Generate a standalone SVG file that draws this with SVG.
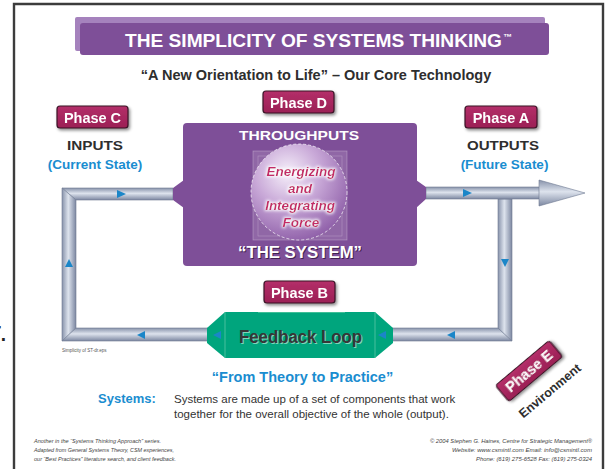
<svg xmlns="http://www.w3.org/2000/svg" width="608" height="469" viewBox="0 0 608 469">
  <style>
    .sans { font-family: "Liberation Sans", Arial, sans-serif; }
    .badge-rect { fill: url(#badgeFill); stroke: #3a1326; stroke-width: 1.2; }
    .badge-text { font-family: "Liberation Sans", Arial, sans-serif; font-weight: bold; font-size: 14.5px; fill: #ffffff; text-anchor: middle; }
    .head { font-family: "Liberation Sans", Arial, sans-serif; font-weight: bold; fill: #2e2e2e; text-anchor: middle; }
    .blue { font-family: "Liberation Sans", Arial, sans-serif; font-weight: bold; fill: #1a8dd0; }
    .pipe { stroke: #6f7a92; stroke-width: 0.6; }
    .flow { fill: #1b86c8; }
    .foot { font-family: "Liberation Sans", Arial, sans-serif; font-style: italic; font-size: 5.8px; fill: #444; }
    .force { font-family: "Liberation Sans", Arial, sans-serif; font-weight: bold; font-style: italic; font-size: 13.5px; fill: #c42a68; text-anchor: middle; }
  </style>
  <defs>
    <linearGradient id="badgeFill" x1="0" y1="0" x2="0" y2="1">
      <stop offset="0" stop-color="#b42f69"/>
      <stop offset="1" stop-color="#9b1f55"/>
    </linearGradient>
    <linearGradient id="pipeH" x1="0" y1="0" x2="0" y2="1">
      <stop offset="0" stop-color="#8792aa"/>
      <stop offset="0.45" stop-color="#dde3ed"/>
      <stop offset="1" stop-color="#7c87a1"/>
    </linearGradient>
    <linearGradient id="pipeV" x1="0" y1="0" x2="1" y2="0">
      <stop offset="0" stop-color="#8792aa"/>
      <stop offset="0.45" stop-color="#dde3ed"/>
      <stop offset="1" stop-color="#7c87a1"/>
    </linearGradient>
    <radialGradient id="sphere" cx="0.38" cy="0.3" r="0.75">
      <stop offset="0" stop-color="#f6f0fa"/>
      <stop offset="0.45" stop-color="#c9a9d8"/>
      <stop offset="1" stop-color="#8d5da7"/>
    </radialGradient>
    <filter id="shadow" x="-20%" y="-30%" width="150%" height="180%">
      <feDropShadow dx="1.5" dy="2" stdDeviation="1.4" flood-color="#000" flood-opacity="0.45"/>
    </filter>
    <filter id="glow" x="-20%" y="-30%" width="140%" height="160%">
      <feMorphology in="SourceAlpha" operator="dilate" radius="1.2" result="thick"/>
      <feGaussianBlur in="thick" stdDeviation="1.4" result="soft"/>
      <feFlood flood-color="#ffffff" flood-opacity="0.9"/>
      <feComposite in2="soft" operator="in" result="halo"/>
      <feMerge><feMergeNode in="halo"/><feMergeNode in="SourceGraphic"/></feMerge>
    </filter>
  </defs>

  <rect width="608" height="469" fill="#ffffff"/>

  <!-- page frame, open at the bottom -->
  <g id="frame">
    <path d="M14 469 V4 H603 V469" fill="none" stroke="#3c3c3c" stroke-width="2.4"/>
    <text class="sans" x="-8.3" y="341" font-size="28" fill="#222">r.</text>
  </g>

  <!-- title banner -->
  <g id="title">
    <rect x="75" y="17" width="470" height="34" rx="2" fill="#a582bd"/>
    <rect x="80" y="23" width="469" height="32" rx="3" fill="#7e4f98"/>
    <text class="sans" x="125" y="47" font-size="19" font-weight="bold" fill="#ffffff" textLength="377" lengthAdjust="spacingAndGlyphs">THE SIMPLICITY OF SYSTEMS THINKING</text>
    <text class="sans" x="503" y="40" font-size="9" font-weight="bold" fill="#ffffff">™</text>
  </g>

  <g id="subtitle">
    <text class="head" x="316" y="80" font-size="14.5">“A New Orientation to Life” – Our Core Technology</text>
  </g>

  <!-- flow pipes and direction marks -->
  <g id="connectors">
    <polygon class="pipe" fill="url(#pipeH)" points="62,188 173,188 173,200 76,200"/>
    <polygon class="pipe" fill="url(#pipeV)" points="62,188 76,200 76,328 62,341"/>
    <polygon class="pipe" fill="url(#pipeH)" points="76,328 208,328 208,341 62,341"/>
    <polygon class="pipe" fill="url(#pipeH)" points="392,328 498,328 512,341 392,341"/>
    <polygon class="pipe" fill="url(#pipeV)" points="498,199 512,199 512,341 498,328"/>
    <polygon class="pipe" fill="url(#pipeH)" points="426,187 540,187 540,199 426,199"/>
    <polygon class="pipe" fill="url(#pipeH)" points="539,180 585,193 539,206"/>
    <!-- tabs joining the pipes to the system box -->
    <polygon fill="#7e4f98" points="173,188 184,180 184,208 173,200"/>
    <polygon fill="#7e4f98" points="416,180 426,187 426,199 416,208"/>
    <!-- direction marks -->
    <polygon class="flow" points="117,190 126,194 117,198"/>
    <polygon class="flow" points="69,259 73,267 65,267"/>
    <polygon class="flow" points="145,331 137,335 145,339"/>
    <polygon class="flow" points="455,331 447,335 455,339"/>
    <polygon class="flow" points="501,259 509,259 505,267"/>
    <polygon class="flow" points="463,189 472,193 463,197"/>
  </g>

  <!-- phase badges -->
  <g id="phase-c" filter="url(#shadow)">
    <rect class="badge-rect" x="57" y="106" width="71" height="22" rx="3"/>
    <text class="badge-text" x="92.5" y="122.5">Phase C</text>
  </g>
  <g id="phase-d" filter="url(#shadow)">
    <rect class="badge-rect" x="263" y="91" width="71" height="22" rx="3"/>
    <text class="badge-text" x="298.5" y="107.5">Phase D</text>
  </g>
  <g id="phase-a" filter="url(#shadow)">
    <rect class="badge-rect" x="465" y="106" width="72" height="22" rx="3"/>
    <text class="badge-text" x="501" y="122.5">Phase A</text>
  </g>
  <g id="phase-b" filter="url(#shadow)">
    <rect class="badge-rect" x="264" y="281" width="71" height="22" rx="3"/>
    <text class="badge-text" x="299.5" y="297.5">Phase B</text>
  </g>
  <g id="phase-e" filter="url(#shadow)" transform="translate(529 371) rotate(-40)">
    <rect class="badge-rect" x="-35" y="-10.5" width="70" height="21" rx="3"/>
    <text class="badge-text" x="0" y="5">Phase E</text>
  </g>
  <g id="environment" transform="translate(550 391) rotate(-40)">
    <text class="head" x="0" y="4" font-size="12.5" fill="#1e1e1e">Environment</text>
  </g>

  <!-- inputs / outputs -->
  <g id="inputs">
    <text class="head" x="95" y="150" font-size="13" textLength="56" lengthAdjust="spacingAndGlyphs">INPUTS</text>
    <text class="blue" x="95" y="169" font-size="13.5" text-anchor="middle">(Current State)</text>
  </g>
  <g id="outputs">
    <text class="head" x="503" y="150" font-size="13" textLength="72" lengthAdjust="spacingAndGlyphs">OUTPUTS</text>
    <text class="blue" x="504.5" y="169" font-size="13.5" text-anchor="middle">(Future State)</text>
  </g>

  <!-- the system -->
  <g id="system">
    <rect x="183" y="123" width="234" height="143" rx="4" fill="#7e4f98"/>
    <text class="sans" x="299" y="140" font-size="12.5" font-weight="bold" fill="#ffffff" text-anchor="middle" textLength="120" lengthAdjust="spacingAndGlyphs">THROUGHPUTS</text>
    <rect x="253" y="151" width="94" height="89" fill="#ffffff" fill-opacity="0.14" stroke="#ffffff" stroke-opacity="0.3" stroke-width="0.8"/>
    <rect x="258" y="156" width="84" height="80" fill="none" stroke="#ffffff" stroke-opacity="0.3" stroke-width="0.6"/>
    <circle cx="299" cy="192" r="48" fill="url(#sphere)" stroke="#ffffff" stroke-opacity="0.85" stroke-width="0.8" stroke-dasharray="3 2"/>
    <g filter="url(#glow)">
      <text class="force" x="301" y="176">Energizing</text>
      <text class="force" x="300" y="193">and</text>
      <text class="force" x="300" y="210">Integrating</text>
      <text class="force" x="301" y="227">Force</text>
    </g>
    <text class="sans" x="301" y="259" font-size="16" font-weight="bold" fill="#3f2150" text-anchor="middle" textLength="124" lengthAdjust="spacingAndGlyphs">“THE SYSTEM”</text>
    <text class="sans" x="300" y="258" font-size="16" font-weight="bold" fill="#ffffff" text-anchor="middle" textLength="124" lengthAdjust="spacingAndGlyphs">“THE SYSTEM”</text>
  </g>

  <!-- feedback loop -->
  <g id="feedback-loop">
    <polygon points="225,312 375,312 393,328 393,343 375,358 225,358 207,343 207,328" fill="#00a57d"/>
    <line x1="225" y1="312" x2="225" y2="358" stroke="#5cc7a6" stroke-width="0.8"/>
    <line x1="375" y1="312" x2="375" y2="358" stroke="#5cc7a6" stroke-width="0.8"/>
    <line x1="258" y1="312.5" x2="345" y2="312.5" stroke="#3fbf97" stroke-width="1"/>
    <polygon class="flow" points="221,331 213,335 221,339"/>
    <polygon class="flow" points="386,331 378,335 386,339"/>
    <text class="sans" x="301.5" y="344" font-size="18" font-weight="bold" fill="#7fd6ba" text-anchor="middle" textLength="123" lengthAdjust="spacingAndGlyphs">Feedback Loop</text>
    <text class="sans" x="300.5" y="343" font-size="18" font-weight="bold" fill="#373737" text-anchor="middle" textLength="123" lengthAdjust="spacingAndGlyphs">Feedback Loop</text>
  </g>

  <g id="file-label">
    <text class="sans" x="62" y="352" font-size="4.5" fill="#555">Simplicity of ST-dr.eps</text>
  </g>

  <g id="theory">
    <text class="blue" x="302.5" y="382" font-size="14.5" text-anchor="middle">“From Theory to Practice”</text>
  </g>

  <g id="definition">
    <text class="blue" x="98" y="403" font-size="13">Systems:</text>
    <text class="sans" x="174" y="403" font-size="11.5" fill="#333">Systems are made up of a set of components that work</text>
    <text class="sans" x="174" y="418" font-size="11.5" fill="#333">together for the overall objective of the whole (output).</text>
  </g>

  <g id="footer-left">
    <text class="foot" x="34" y="443" textLength="127" lengthAdjust="spacingAndGlyphs">Another in the “Systems Thinking Approach” series.</text>
    <text class="foot" x="34" y="452" textLength="140" lengthAdjust="spacingAndGlyphs">Adapted from General Systems Theory, CSM experiences,</text>
    <text class="foot" x="34" y="461" textLength="142" lengthAdjust="spacingAndGlyphs">our “Best Practices” literature search, and client feedback.</text>
  </g>
  <g id="footer-right">
    <text class="foot" x="592" y="443" text-anchor="end" textLength="162" lengthAdjust="spacingAndGlyphs">© 2004  Stephen G. Haines, Centre for Strategic Management®</text>
    <text class="foot" x="592" y="452" text-anchor="end" textLength="140" lengthAdjust="spacingAndGlyphs">Website: www.csmintl.com    Email: info@csmintl.com</text>
    <text class="foot" x="592" y="461" text-anchor="end" textLength="116" lengthAdjust="spacingAndGlyphs">Phone: (619) 275-6528    Fax: (619) 275-0324</text>
  </g>
</svg>
